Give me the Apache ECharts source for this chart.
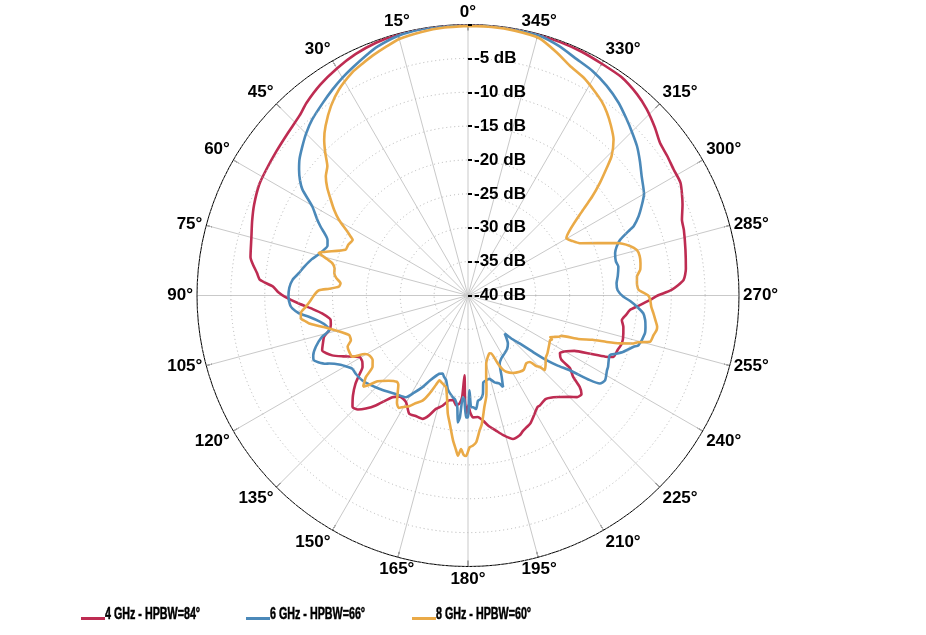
<!DOCTYPE html>
<html>
<head>
<meta charset="utf-8">
<script src="https://cdn.jsdelivr.net/npm/echarts@6/dist/echarts.min.js"></script>
<style>
html,body{margin:0;padding:0;background:#fff;}
#chart{width:926px;height:635px;}
</style>
</head>
<body>
<div id="chart"></div>
<script>
// Angle tick labels (degrees) and radial tick labels (dB)
const angleTicks = [0, 15, 30, 45, 60, 75, 90, 105, 120, 135, 150, 165, 180, 195, 210, 225, 240, 255, 270, 285, 300, 315, 330, 345];
const radiusTicks = [-40, -35, -30, -25, -20, -15, -10, -5, 0];

const seriesNames = ['4 GHz - HPBW=84°', '6 GHz - HPBW=66°', '8 GHz - HPBW=60°'];

// [angle (deg), normalized gain (dB)]
const gain4GHz = [[0,0],[5,0],[10,-0.05],[15,-0.1],[20,-0.3],[25,-0.7],[30,-1.3],[35,-2.0],[40,-2.9],[43,-3.6],[48,-4.2],[53,-4.6],[58,-4.9],[62,-5.1],[67,-5.7],[71,-6.3],[75,-6.9],[80,-7.4],[84,-8.7],[85.7,-9.2],[87.4,-11.2],[89,-12.0],[90.4,-13.0],[92.7,-15.0],[95,-17.0],[97,-18.3],[100,-19.4],[102,-19.3],[104,-18.9],[106,-17.9],[108,-17.5],[110.6,-17.0],[113.8,-18.1],[116,-19.5],[119.6,-21.6],[122,-21.6],[124.1,-21.2],[126,-20.2],[128.1,-18.9],[131,-17.5],[134,-16.3],[136,-16.6],[137.9,-17.5],[140,-18.8],[143.4,-21.3],[146,-22.0],[149.8,-21.8],[153.6,-20.5],[156.5,-20.6],[159.8,-20.6],[162,-21.4],[164.2,-22.6],[167,-23.3],[170,-24.3],[172,-24.4],[173.8,-23.7],[175.5,-24.0],[176.7,-25.0],[177.5,-28.2],[178.4,-24.5],[179.2,-22.6],[180.2,-23.8],[181,-22.8],[182.3,-22.0],[184.6,-22.0],[186.8,-21.4],[189,-20.5],[191.8,-19.6],[194,-18.8],[197.4,-17.8],[200.3,-18.0],[202,-18.4],[203.9,-18.7],[206,-19.0],[208.8,-19.8],[211.9,-20.6],[213.1,-20.6],[216.8,-20.9],[220,-20.4],[222.1,-19.8],[225.1,-18.8],[227,-18.0],[229,-17.8],[230.7,-18.7],[232.3,-20.4],[234.5,-21.5],[235.5,-23.3],[238,-24.0],[240.5,-23.3],[242.5,-22.3],[244.5,-20.0],[246,-17.8],[247.1,-16.7],[250,-16.5],[252.7,-16.2],[256.3,-16.4],[258.5,-16.6],[260.9,-17.0],[263,-16.5],[264.9,-16.0],[266.5,-14.8],[268.6,-13.1],[270,-12.0],[271.5,-10.0],[274.1,-8.1],[277,-7.6],[281.9,-7.2],[286.9,-6.7],[289.5,-6.5],[293,-5.6],[297.9,-4.5],[301.5,-4.4],[305,-4.1],[308.5,-3.8],[312,-2.9],[316.2,-1.9],[320,-1.2],[325,-0.6],[330,-0.5],[335,-0.3],[340,-0.2],[345,-0.1],[350,0],[355,0],[360,0]];

const gain6GHz = [[0,0],[5,0],[10,-0.1],[15,-0.3],[20,-0.9],[23,-1.5],[26.9,-2.3],[30,-2.9],[33.3,-3.6],[37,-4.4],[41.5,-5.3],[45,-6.2],[48,-7.1],[51,-8.0],[53.3,-8.9],[55.5,-9.9],[57.4,-11.0],[60.2,-13.5],[63.3,-15.1],[65,-16.0],[68.4,-17.7],[70.5,-18.0],[73.2,-17.5],[74.7,-17.1],[77,-16.3],[79.9,-15.5],[82.5,-14.8],[84.9,-14.0],[87.5,-13.6],[90.4,-13.5],[93,-13.7],[94.2,-14.0],[96,-14.9],[97.6,-16.3],[100,-17.8],[102,-18.6],[104,-18.9],[106,-17.5],[108.6,-16.3],[111.2,-15.5],[112.8,-15.3],[114,-15.8],[115.6,-16.7],[116.1,-17.2],[118.5,-18.6],[120.5,-19.3],[122.3,-19.8],[125,-19.8],[128.8,-20.0],[132,-20.4],[136.4,-21.0],[140,-21.5],[144,-22.0],[148.6,-22.4],[151,-23.6],[153.6,-24.9],[156,-26.3],[159.9,-27.7],[162,-27.9],[163.5,-27.5],[165.5,-27.1],[168,-25.8],[171.5,-24.8],[173,-24.5],[174.5,-23.5],[175.4,-21.2],[176.2,-22.0],[177.1,-25.0],[178,-24.6],[179.1,-22.0],[180,-22.0],[180.9,-26.0],[181.6,-23.5],[182.5,-23.5],[184.1,-23.2],[185.4,-24.4],[187,-24.6],[188.6,-25.3],[190,-27.0],[192,-27.2],[194.3,-27.3],[197,-26.6],[199.7,-26.2],[200.9,-25.5],[202.5,-27.0],[204.9,-28.9],[208,-29.5],[212.3,-29.9],[216,-30.2],[219.8,-30.8],[222,-31.5],[224,-32.2],[225.2,-31.0],[227.1,-29.6],[229,-27.3],[230.5,-25.0],[232,-23.2],[233.7,-21.3],[235.2,-18.1],[236.3,-16.6],[238.2,-16.2],[241.7,-16.7],[243,-16.8],[245,-17.1],[247.2,-17.3],[248.5,-16.5],[250.1,-15.6],[252.8,-14.4],[253.7,-13.8],[257.9,-13.3],[260,-13.4],[262.1,-13.6],[264.2,-14.0],[266.2,-15.0],[268,-16.0],[269.6,-17.1],[272,-17.9],[274.7,-18.0],[277.5,-17.7],[280.9,-17.4],[283,-17.6],[286.1,-17.4],[288.2,-16.9],[290.1,-16.1],[292.1,-14.2],[292.7,-13.5],[295,-12.2],[297.2,-11.2],[300,-10.0],[304.5,-8.9],[308,-7.8],[311.5,-6.7],[315,-5.8],[318,-5.0],[322,-3.9],[326.5,-2.9],[331,-2.1],[335.3,-1.6],[340,-0.8],[345,-0.2],[350,-0.05],[355,0],[360,0]];

const gain8GHz = [[0,-0.2],[5,-0.3],[10,-0.5],[15,-0.8],[18,-1.3],[21.7,-1.9],[24.5,-2.4],[27.4,-2.9],[32,-4.1],[35.9,-5.5],[40,-7.3],[42.7,-8.7],[45,-10.2],[47.4,-11.8],[50,-12.6],[52.5,-13.8],[55.1,-15.3],[57.5,-16.6],[59.6,-17.9],[62,-19.8],[63.3,-20.6],[64.3,-21.1],[67,-20.8],[69.5,-20.7],[74.1,-17.1],[75.5,-18.5],[76.6,-19.4],[78.5,-19.9],[80.6,-20.0],[82.5,-20.4],[84.5,-21.1],[86.1,-20.9],[87.2,-19.5],[88,-18.0],[89.5,-17.4],[91.6,-16.8],[94,-16.0],[96,-15.2],[97.8,-15.1],[99,-15.7],[100,-16.2],[101.5,-17.5],[103.3,-18.9],[106,-20.5],[108.4,-21.5],[110.9,-21.5],[113,-20.7],[115,-20.6],[117.9,-20.7],[119.6,-22.5],[121.5,-23.0],[124.1,-23.0],[126.8,-22.4],[128.6,-20.7],[131,-19.5],[132,-20.2],[133.5,-21.6],[137,-22.8],[140.5,-23.5],[142,-23.3],[144.3,-22.2],[146.5,-21.0],[148.3,-20.5],[150,-21.0],[152,-21.5],[154,-22.3],[156.6,-23.1],[158.5,-24.4],[160.3,-26.0],[161.4,-26.8],[163,-26.6],[165,-26.3],[166.5,-26.1],[168.5,-24.5],[170.3,-22.3],[172,-20.8],[174.1,-18.5],[175.5,-17.2],[176.4,-16.3],[177.4,-17.3],[178.4,-16.5],[179.3,-16.3],[180.6,-17.6],[181.8,-17.8],[183.2,-18.3],[184.9,-20.0],[186,-20.8],[187,-21.9],[188.5,-23.5],[190.2,-24.8],[191.5,-26.3],[192.6,-27.7],[195,-29.6],[198,-30.5],[200.4,-30.9],[201.8,-30.8],[203.7,-29.0],[205,-28.0],[206.6,-27.4],[210,-26.8],[214.1,-26.4],[217,-26.3],[220.6,-26.8],[222.9,-26.6],[224,-25.5],[225.1,-25.1],[225.8,-24.2],[228,-24.6],[231.4,-25.3],[234,-25.5],[236.8,-25.8],[239,-26.0],[241.4,-26.2],[242.3,-26.0],[243.2,-26.4],[244.1,-26.0],[245.5,-25.3],[246.6,-25.0],[248.5,-22.5],[250.4,-20.5],[251.5,-18.4],[252.5,-16.5],[253.8,-14.6],[254.6,-14.0],[255.7,-12.3],[257.9,-12.0],[259.6,-11.7],[260.6,-11.7],[262.5,-12.1],[264.5,-12.5],[266.5,-12.9],[268.6,-13.1],[270,-13.4],[271.9,-14.8],[274.1,-15.0],[276.4,-14.9],[278.5,-14.3],[280.6,-14.1],[283,-14.0],[285.1,-14.2],[287,-15.0],[289.4,-16.7],[295.1,-21.8],[297.5,-22.6],[300.2,-23.2],[306.7,-18.8],[308.5,-16.6],[310.5,-14.4],[312.5,-12.3],[314.1,-10.5],[317,-8.5],[320,-7.2],[322.8,-6.1],[325.5,-5.2],[328.7,-4.4],[332,-3.6],[336.1,-2.9],[340,-1.8],[344.5,-0.6],[350,-0.3],[355,-0.2],[360,-0.2]];

const seriesColors = ['#be2c52', '#4b89b9', '#eaaa47'];

const chart = echarts.init(document.getElementById('chart'), null, {renderer: 'canvas'});
const gains = [gain4GHz, gain6GHz, gain8GHz];
const boldFont = "'Liberation Sans', Arial, sans-serif";
const legendLeft = [76, 241, 407];

const option = {
  backgroundColor: '#ffffff',
  animation: false,
  polar: { center: [468, 295.5], radius: 271 },
  angleAxis: {
    type: 'value',
    min: angleTicks[0], max: 360, interval: 15,
    startAngle: 90, clockwise: false,
    axisLine: { show: true, lineStyle: { color: '#000', width: 1 } },
    axisTick: { show: true, inside: true, length: 6, lineStyle: { color: '#000', width: 1 } },
    axisLabel: {
      margin: 4,
      color: '#000', fontWeight: 'bold', fontSize: 17, fontFamily: boldFont,
      formatter: function (v) { return angleTicks.indexOf(v) >= 0 ? v + '°' : ''; }
    },
    splitLine: { show: true, lineStyle: { color: '#c9c9c9', width: 1 } }
  },
  radiusAxis: {
    type: 'value',
    min: radiusTicks[0], max: radiusTicks[radiusTicks.length - 1], interval: 5,
    axisLine: { show: false },
    axisTick: { show: true, length: -4, lineStyle: { color: '#000', width: 2 } },
    axisLabel: {
      margin: -6, align: 'left', verticalAlign: 'middle',
      color: '#000', fontWeight: 'bold', fontSize: 17, fontFamily: boldFont,
      formatter: function (v) { return v === 0 ? '' : v + ' dB'; }
    },
    splitLine: { show: true, lineStyle: { color: '#b4b4b4', width: 1, type: [1, 3] } },
    z: 5
  },
  legend: seriesNames.map(function (name, i) {
    return {
      left: legendLeft[i], top: 612,
      icon: 'rect', itemWidth: 24, itemHeight: 3,
      formatter: function () { return ''; },
      selectedMode: false,
      data: [name]
    };
  }),
  graphic: seriesNames.map(function (name, i) {
    return {
      type: 'text',
      x: legendLeft[i] + 29, y: 615,
      scaleX: 0.67,
      style: {
        text: name, fill: '#000', stroke: '#000', lineWidth: 0.5,
        fontSize: 16, fontWeight: 'bold', fontFamily: boldFont,
        verticalAlign: 'middle', align: 'left'
      }
    };
  }),
  series: seriesNames.map(function (name, i) {
    return {
      name: name,
      type: 'line',
      coordinateSystem: 'polar',
      showSymbol: false,
      symbol: 'none',
      smooth: 0.2,
      lineStyle: { color: seriesColors[i], width: 2.6 },
      itemStyle: { color: seriesColors[i] },
      data: gains[i].map(function (p) { return [p[1], p[0]]; })
    };
  })
};
chart.setOption(option);
</script>
</body>
</html>
